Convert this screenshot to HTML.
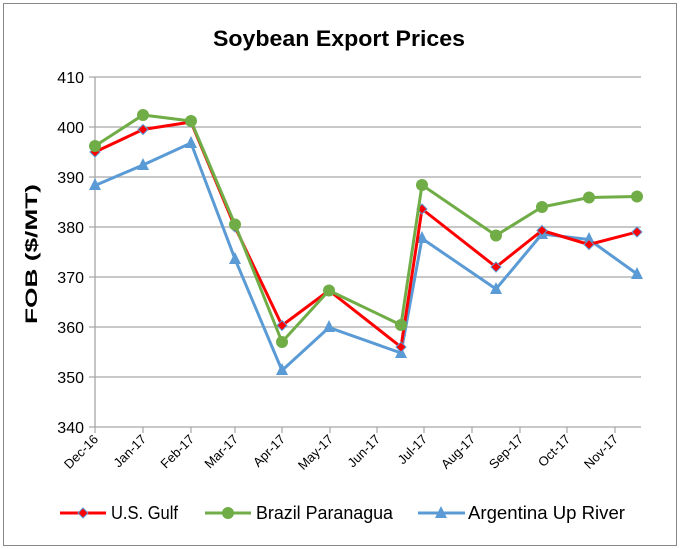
<!DOCTYPE html>
<html><head><meta charset="utf-8"><style>
html,body{margin:0;padding:0;background:#fff;}
svg{display:block;font-family:"Liberation Sans",sans-serif;}
</style></head><body>
<svg width="680" height="549" viewBox="0 0 680 549" xmlns="http://www.w3.org/2000/svg">
<rect x="3.5" y="3.5" width="673" height="542" fill="#fff" stroke="#888" stroke-width="1"/>
<text x="339" y="46" text-anchor="middle" font-size="22" font-weight="bold" fill="#000" textLength="252" lengthAdjust="spacingAndGlyphs">Soybean Export Prices</text>
<g stroke="#a6a6a6" stroke-width="1.3">
<line x1="89" y1="77" x2="641" y2="77"/>
<line x1="89" y1="127" x2="641" y2="127"/>
<line x1="89" y1="177" x2="641" y2="177"/>
<line x1="89" y1="227" x2="641" y2="227"/>
<line x1="89" y1="277" x2="641" y2="277"/>
<line x1="89" y1="327" x2="641" y2="327"/>
<line x1="89" y1="377" x2="641" y2="377"/>
<line x1="89" y1="427" x2="641" y2="427"/>
<line x1="95" y1="77" x2="95" y2="427"/>
</g>
<g stroke="#a6a6a6" stroke-width="1.2">
<line x1="95" y1="427" x2="95" y2="433"/><line x1="143" y1="427" x2="143" y2="433"/><line x1="191" y1="427" x2="191" y2="433"/><line x1="235" y1="427" x2="235" y2="433"/><line x1="282" y1="427" x2="282" y2="433"/><line x1="330" y1="427" x2="330" y2="433"/><line x1="377" y1="427" x2="377" y2="433"/><line x1="424" y1="427" x2="424" y2="433"/><line x1="472" y1="427" x2="472" y2="433"/><line x1="520" y1="427" x2="520" y2="433"/><line x1="567" y1="427" x2="567" y2="433"/><line x1="615" y1="427" x2="615" y2="433"/>
</g>
<g font-size="16" text-anchor="end" fill="#000">
<text x="84" y="83">410</text><text x="84" y="133">400</text><text x="84" y="183">390</text><text x="84" y="233">380</text><text x="84" y="283">370</text><text x="84" y="333">360</text><text x="84" y="383">350</text><text x="84" y="433">340</text>
</g>
<text transform="translate(37,254) rotate(-90)" text-anchor="middle" font-size="17" font-weight="bold" textLength="140" lengthAdjust="spacingAndGlyphs">FOB ($/MT)</text>
<g font-size="13" text-anchor="end" fill="#000">
<text transform="translate(99,440) rotate(-45)">Dec-16</text>
<text transform="translate(147,440) rotate(-45)">Jan-17</text>
<text transform="translate(195,440) rotate(-45)">Feb-17</text>
<text transform="translate(239,440) rotate(-45)">Mar-17</text>
<text transform="translate(286,440) rotate(-45)">Apr-17</text>
<text transform="translate(334,440) rotate(-45)">May-17</text>
<text transform="translate(381,440) rotate(-45)">Jun-17</text>
<text transform="translate(428,440) rotate(-45)">Jul-17</text>
<text transform="translate(476,440) rotate(-45)">Aug-17</text>
<text transform="translate(524,440) rotate(-45)">Sep-17</text>
<text transform="translate(571,440) rotate(-45)">Oct-17</text>
<text transform="translate(619,440) rotate(-45)">Nov-17</text>
</g>
<!-- Argentina -->
<polyline fill="none" stroke="#5b9bd5" stroke-width="3" stroke-linejoin="round" points="95,185.5 143,165 191,143 235,259 282,370.5 329,327.5 401,353 422,238.5 496,289 542,234 589,239.5 637,274"/>
<g fill="#5b9bd5">
<polygon points="95,178 89,190 101,190"/><polygon points="143,158 137,170 149,170"/><polygon points="191,136 185,148 197,148"/><polygon points="235,252 229,264 241,264"/><polygon points="282,363 276,375 288,375"/><polygon points="329,320 323,332 335,332"/><polygon points="401,346 395,358 407,358"/><polygon points="422,231 416,243 428,243"/><polygon points="496,282 490,294 502,294"/><polygon points="542,227 536,239 548,239"/><polygon points="589,232 583,244 595,244"/><polygon points="637,267 631,279 643,279"/>
</g>
<!-- US Gulf -->
<polyline fill="none" stroke="#ff0000" stroke-width="3" stroke-linejoin="round" points="95,152 143,129.5 191,122 235,227 282,325.5 329,290.5 401,347 422,209 496,267 542,230.5 589,244.5 637,232"/>
<g fill="#ff0000" stroke="#5b9bd5" stroke-width="1">
<polygon points="95,147 100,152 95,157 90,152"/><polygon points="143,124.5 148,129.5 143,134.5 138,129.5"/><polygon points="191,117 196,122 191,127 186,122"/><polygon points="235,222 240,227 235,232 230,227"/><polygon points="282,320.5 287,325.5 282,330.5 277,325.5"/><polygon points="329,285.5 334,290.5 329,295.5 324,290.5"/><polygon points="401,342 406,347 401,352 396,347"/><polygon points="422,204 427,209 422,214 417,209"/><polygon points="496,262 501,267 496,272 491,267"/><polygon points="542,225.5 547,230.5 542,235.5 537,230.5"/><polygon points="589,239.5 594,244.5 589,249.5 584,244.5"/><polygon points="637,227 642,232 637,237 632,232"/>
</g>
<!-- Brazil -->
<polyline fill="none" stroke="#70ad47" stroke-width="3" stroke-linejoin="round" points="95,146 143,115 191,121 235,224.5 282,342 329,290.5 401,325 422,185 496,235.5 542,207 589,197.5 637,196.5"/>
<g fill="#70ad47">
<circle cx="95" cy="146" r="6"/><circle cx="143" cy="115" r="6"/><circle cx="191" cy="121" r="6"/><circle cx="235" cy="224.5" r="6"/><circle cx="282" cy="342" r="6"/><circle cx="329" cy="290.5" r="6"/><circle cx="401" cy="325" r="6"/><circle cx="422" cy="185" r="6"/><circle cx="496" cy="235.5" r="6"/><circle cx="542" cy="207" r="6"/><circle cx="589" cy="197.5" r="6"/><circle cx="637" cy="196.5" r="6"/>
</g>
<!-- Legend -->
<line x1="60" y1="513" x2="106" y2="513" stroke="#ff0000" stroke-width="3"/>
<polygon points="83,508 88,513 83,518 78,513" fill="#ff0000" stroke="#5b9bd5" stroke-width="1"/>
<text x="111" y="519" font-size="18" textLength="67" lengthAdjust="spacingAndGlyphs">U.S. Gulf</text>
<line x1="205" y1="513" x2="251" y2="513" stroke="#70ad47" stroke-width="3"/>
<circle cx="228" cy="513" r="6" fill="#70ad47"/>
<text x="256" y="519" font-size="18" textLength="137" lengthAdjust="spacingAndGlyphs">Brazil Paranagua</text>
<line x1="418" y1="513" x2="465" y2="513" stroke="#5b9bd5" stroke-width="3"/>
<polygon points="441,506 435,518 447,518" fill="#5b9bd5"/>
<text x="468" y="519" font-size="18" textLength="157" lengthAdjust="spacingAndGlyphs">Argentina Up River</text>
</svg>
</body></html>
